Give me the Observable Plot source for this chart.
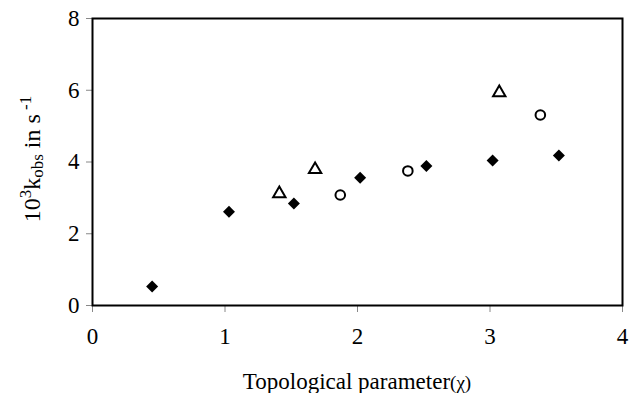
<!DOCTYPE html>
<html>
<head>
<meta charset="utf-8">
<script src="https://cdn.jsdelivr.net/npm/d3@7"></script>
<script src="https://cdn.jsdelivr.net/npm/@observablehq/plot@0.6"></script>
<style>
  html, body { margin: 0; padding: 0; background: #fff; }
</style>
</head>
<body>
<div id="chart"></div>
<script>
// Series: filled diamonds
const diamondX = [0.45, 1.03, 1.52, 2.02, 2.52, 3.02, 3.52];
const diamondY = [0.53, 2.61, 2.84, 3.56, 3.89, 4.04, 4.18];
// Series: open triangles
const triangleX = [1.41, 1.68, 3.07];
const triangleY = [3.12, 3.79, 5.93];
// Series: open circles
const circleX = [1.87, 2.38, 3.38];
const circleY = [3.08, 3.75, 5.31];
// Axis ticks
const xTicks = [0, 1, 2, 3, 4];
const yTicks = [0, 2, 4, 6, 8];

const toRows = (xs, ys) => xs.map((x, i) => ({x, y: ys[i]}));
const diamonds = toRows(diamondX, diamondY);
const triangles = toRows(triangleX, triangleY);
const circles = toRows(circleX, circleY);

const font = "'Liberation Serif', 'Times New Roman', serif";

const chart = Plot.plot({
  width: 631,
  height: 393,
  marginLeft: 92,
  marginRight: 9,
  marginTop: 18,
  marginBottom: 88,
  style: {fontFamily: font, fontSize: "23px", background: "#fff", color: "#000"},
  x: {domain: [0, 4], ticks: xTicks, label: null},
  y: {domain: [0, 8], ticks: yTicks, label: null},
  marks: [
    Plot.axisX({ticks: xTicks, tickFormat: "d", tickSize: 7, tickPadding: 15, stroke: "#888", label: null, fontSize: 23}),
    Plot.axisY({ticks: yTicks, tickFormat: "d", tickSize: 6, tickPadding: 7, stroke: "#888", label: null, fontSize: 23}),
    Plot.frame({stroke: "#000", strokeWidth: 2}),
    Plot.dot(diamonds, {x: "x", y: "y", symbol: "diamond2", r: 5.4, fill: "#000", stroke: "none"}),
    Plot.dot(triangles, {x: "x", y: "y", symbol: "triangle", r: 4.6, fill: "none", stroke: "#000", strokeWidth: 2}),
    Plot.dot(circles, {x: "x", y: "y", symbol: "circle", r: 4.8, fill: "none", stroke: "#000", strokeWidth: 2})
  ]
});

document.getElementById("chart").appendChild(chart);

const svg = d3.select(chart);

// X axis title
const xt = svg.append("text")
  .attr("x", 357).attr("y", 389)
  .attr("text-anchor", "middle")
  .attr("font-family", font)
  .attr("font-size", 23)
  .attr("fill", "#000");
xt.append("tspan").text("Topological parameter");
xt.append("tspan").attr("font-size", 19).text("(χ)");

// Y axis title
const yt = svg.append("text")
  .attr("transform", "translate(40,159) rotate(-90)")
  .attr("text-anchor", "middle")
  .attr("font-family", font)
  .attr("font-size", 24)
  .attr("fill", "#000");
yt.append("tspan").text("10");
yt.append("tspan").attr("font-size", 17).attr("dy", -9).text("3");
yt.append("tspan").attr("dy", 9).text("k");
yt.append("tspan").attr("font-size", 17).attr("dy", 3).text("obs");
yt.append("tspan").attr("dy", -3).text(" in s");
yt.append("tspan").attr("font-size", 17).attr("dy", -9).text(" -1");
</script>
</body>
</html>
